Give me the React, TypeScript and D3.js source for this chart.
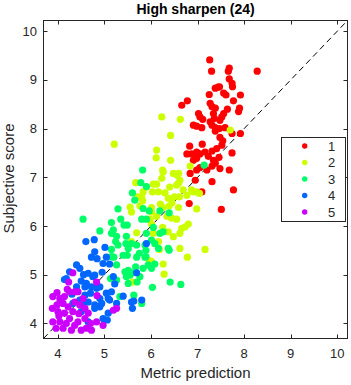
import React from "react";
import { scaleLinear, range } from "d3";

type Pt = [number, number];

const title = "High sharpen (24)";
const xLabel = "Metric prediction";
const yLabel = "Subjective score";
const tickValues = [4, 5, 6, 7, 8, 9, 10];
const legendLabels = ["1", "2", "3", "4", "5"];
const groupColors = ["#ff0000", "#ccff00", "#00ff66", "#0066ff", "#cc00ff"];

const group1: Pt[] = [
  [7.26, 9.41], [7.3, 9.18], [7.68, 9.24], [7.66, 9.18], [8.28, 9.18], [7.68, 9.02],
  [7.74, 8.93], [7.75, 8.86], [7.38, 8.83], [7.44, 8.85], [7.47, 8.86], [7.25, 8.7],
  [7.56, 8.73], [7.61, 8.69], [7.92, 8.69], [7.77, 8.57], [7.9, 8.42], [7.88, 8.35],
  [6.78, 8.57], [6.66, 8.48], [7.27, 8.52], [7.31, 8.45], [7.38, 8.42], [7.64, 8.4],
  [7.34, 8.31], [7.02, 8.31], [7.05, 8.24], [7.11, 8.19], [7.56, 8.31], [7.52, 8.24],
  [7.36, 8.21], [7.48, 8.17], [7.27, 8.14], [6.91, 8.07], [6.98, 8.05], [7.09, 8.02],
  [7.31, 8.07], [7.38, 8.02], [7.47, 8.0], [7.59, 8.02], [7.38, 7.95], [7.74, 7.9],
  [7.48, 7.82], [7.92, 7.9], [7.54, 7.75],
  [6.83, 7.64], [7.1, 7.68], [6.77, 7.48], [6.87, 7.48], [6.98, 7.52], [7.05, 7.48],
  [7.16, 7.52], [7.23, 7.43], [7.31, 7.54], [7.41, 7.59], [7.52, 7.66], [7.46, 7.41],
  [6.91, 7.35], [6.98, 7.39], [7.34, 7.35], [7.38, 7.29], [7.74, 7.5], [6.84, 7.08],
  [6.98, 7.15], [7.05, 7.2], [7.2, 7.15], [7.31, 7.23], [7.48, 7.18], [7.68, 7.15],
  [6.95, 6.94], [7.31, 6.91], [7.09, 6.7], [7.77, 6.74], [6.82, 6.46], [7.51, 6.34],
];

const group2: Pt[] = [
  [6.23, 8.24], [6.63, 8.19], [7.7, 7.97], [6.42, 7.86], [5.21, 7.68], [6.12, 7.56],
  [6.11, 7.4], [6.42, 7.35], [6.25, 7.15], [6.84, 7.23], [6.48, 7.08], [6.59, 7.08],
  [6.62, 6.94], [6.23, 6.98], [5.67, 6.89], [6.05, 6.86], [6.12, 6.86], [6.55, 6.84],
  [5.83, 6.7], [6.03, 6.7], [6.16, 6.7], [6.4, 6.8], [6.69, 6.74], [6.87, 6.74],
  [7.04, 6.67], [6.98, 6.7], [5.8, 6.6], [5.82, 6.52], [6.37, 6.57], [6.61, 6.6],
  [6.77, 6.63], [5.55, 6.39], [5.76, 6.41], [6.01, 6.38], [6.26, 6.38], [6.39, 6.41],
  [6.59, 6.38], [6.98, 6.35], [5.58, 6.29], [6.01, 6.29], [6.12, 6.2], [6.34, 6.2],
  [6.44, 6.16], [6.55, 6.14], [5.98, 6.14], [6.01, 6.04], [6.25, 5.97], [6.66, 5.95],
  [6.73, 5.98], [6.8, 6.04], [5.69, 5.86], [6.05, 5.85], [6.37, 5.88], [6.48, 5.78],
  [6.62, 5.85], [5.58, 5.68], [6.16, 5.68], [6.62, 5.54], [7.16, 5.52], [6.18, 5.52],
  [6.78, 5.36], [6.26, 5.22], [6.28, 5.01], [5.96, 5.29], [5.6, 4.85], [6.01, 5.27],
  [6.26, 7.11], [6.55, 7.05], [6.59, 6.88], [5.9, 6.8], [6.3, 6.68], [6.5, 6.6],
  [5.72, 6.6], [6.2, 6.45], [6.45, 6.48], [6.91, 6.7],
];

const group3: Pt[] = [
  [4.54, 6.14], [5.29, 6.35], [4.9, 5.9], [5.15, 6.07], [5.35, 6.14], [5.49, 6.02],
  [5.15, 5.85], [5.26, 5.79], [5.24, 5.68], [5.46, 5.64], [5.15, 5.52], [5.29, 5.61],
  [5.2, 5.36], [5.49, 5.4], [5.82, 7.15], [5.78, 6.89], [5.9, 6.81], [5.6, 6.68],
  [5.65, 6.53], [5.83, 6.36], [5.96, 6.31], [5.8, 6.14], [5.9, 6.14], [6.19, 6.31],
  [6.39, 6.27], [6.05, 5.97], [5.42, 6.02], [5.19, 5.92], [5.47, 5.79], [5.9, 5.85],
  [6.19, 5.85], [6.26, 5.88], [6.01, 5.71], [5.58, 5.64], [5.69, 5.61], [5.87, 5.61],
  [6.08, 5.64], [5.51, 5.54], [5.75, 5.44], [5.89, 5.37], [6.16, 5.54], [6.37, 5.54],
  [5.67, 5.16], [5.58, 5.04], [5.83, 5.13], [5.94, 5.2], [6.01, 5.13], [6.08, 5.22],
  [5.87, 5.36], [5.69, 5.36], [6.39, 5.5], [5.89, 5.5], [6.41, 4.85], [6.64, 4.8],
  [6.03, 4.74], [5.7, 4.85], [5.63, 4.58], [5.8, 4.41], [5.15, 5.37], [5.26, 5.2],
  [5.44, 5.06], [5.13, 4.92], [5.26, 4.89], [5.4, 5.4], [5.47, 4.96], [5.51, 4.82],
  [5.33, 4.55], [5.51, 5.09], [5.76, 4.96], [5.55, 4.99], [7.14, 7.25],
];

const group4: Pt[] = [
  [4.6, 5.68], [4.78, 5.72], [5.01, 5.56], [4.79, 5.47], [4.72, 5.36], [5.04, 5.36],
  [5.9, 5.64], [4.47, 5.13], [4.25, 5.06], [4.65, 5.03], [4.79, 4.99], [4.5, 4.87],
  [4.14, 4.9], [4.61, 4.82], [4.72, 4.75], [4.9, 4.75], [5.04, 4.62], [5.22, 4.81],
  [5.19, 4.96], [4.97, 5.23], [5.11, 5.22], [4.9, 4.51], [5.11, 4.48], [4.79, 4.38],
  [5.08, 4.21], [5.06, 4.07], [4.65, 4.44], [4.5, 4.24], [4.32, 4.41], [4.58, 4.58],
  [4.65, 4.03], [5.4, 4.56], [5.58, 4.44], [5.8, 4.48], [5.6, 4.31], [5.69, 5.04],
  [4.9, 4.34], [5.26, 4.41], [4.7, 4.62], [4.75, 4.96], [4.18, 4.92], [4.58, 4.75],
  [4.83, 4.72], [4.4, 4.75], [4.47, 4.48], [4.94, 4.41], [5.08, 4.51], [5.15, 4.65],
  [4.79, 4.31], [4.97, 4.1], [4.54, 4.41], [5.63, 4.46], [4.84, 5.33], [4.4, 5.2],
  [4.55, 5.0], [4.95, 5.05], [4.3, 4.6],
];

const group5: Pt[] = [
  [4.32, 5.04], [4.23, 4.85], [4.83, 4.85], [4.84, 4.57], [3.98, 4.63], [3.89, 4.55],
  [4.04, 4.51], [4.14, 4.55], [4.25, 4.65], [4.36, 4.65], [4.43, 4.65], [3.88, 4.31],
  [3.98, 4.38], [4.11, 4.41], [4.22, 4.34], [4.0, 4.24], [4.14, 4.21], [4.32, 4.24],
  [4.47, 4.38], [4.58, 4.31], [4.65, 4.21], [3.89, 4.03], [4.04, 4.03], [4.18, 4.0],
  [4.43, 4.03], [3.96, 3.9], [4.11, 3.9], [4.29, 3.86], [4.5, 3.86], [4.61, 3.9],
  [4.72, 3.86], [4.83, 4.03], [4.97, 3.96], [5.19, 4.27], [5.26, 4.31], [4.54, 4.51],
  [4.36, 4.44], [4.58, 4.1], [4.25, 4.1], [4.36, 3.96], [4.05, 4.45], [4.2, 4.7],
  [4.45, 4.2], [4.02, 4.15], [4.7, 4.0],
];

const groups = [group1, group2, group3, group4, group5];

const W = 351;
const H = 385;
const left = 43.5;
const right = 347.5;
const top = 20.5;
const bottom = 338.5;
const lim: [number, number] = [3.69, 10.22];
const font = "'Liberation Sans', Arial, Helvetica, sans-serif";
const axisColor = "#262626";
const tickLen = 4;

export default function App() {
  const x = scaleLinear().domain(lim).range([left, right]);
  const y = scaleLinear().domain(lim).range([bottom, top]);

  const lg = { x0: 281, y0: 137, w: 64, h: 84 };

  return (
    <svg
      width={W}
      height={H}
      style={{ position: "absolute", left: 0, top: 0, background: "#fff" }}
      fontFamily={font}
    >
      <rect x={0} y={0} width={W} height={H} fill="#fff" />

      {/* identity line */}
      <line
        x1={x(lim[0])}
        y1={y(lim[0])}
        x2={x(lim[1])}
        y2={y(lim[1])}
        stroke="#000"
        strokeWidth={1}
        strokeDasharray="6,4"
      />

      {groups.map((g, gi) => (
        <g key={gi} fill={groupColors[gi]}>
          {g.map((d, i) => (
            <circle key={i} cx={x(d[0])} cy={y(d[1])} r={3.6} />
          ))}
        </g>
      ))}

      {/* frame */}
      <rect
        x={left}
        y={top}
        width={right - left}
        height={bottom - top}
        fill="none"
        stroke={axisColor}
        strokeWidth={1}
      />

      {tickValues.map((t) => {
        const px = Math.round(x(t)) + 0.5;
        const py = Math.round(y(t)) + 0.5;
        return (
          <g key={t} stroke={axisColor} strokeWidth={1}>
            <line x1={px} x2={px} y1={bottom} y2={bottom - tickLen} />
            <line x1={px} x2={px} y1={top} y2={top + tickLen} />
            <line x1={left} x2={left + tickLen} y1={py} y2={py} />
            <line x1={right} x2={right - tickLen} y1={py} y2={py} />
          </g>
        );
      })}

      {tickValues.map((t) => (
        <text
          key={"xt" + t}
          x={x(t)}
          y={358}
          textAnchor="middle"
          fontSize={13}
          fill={axisColor}
        >
          {t}
        </text>
      ))}
      {tickValues.map((t) => (
        <text
          key={"yt" + t}
          x={37}
          y={y(t) + 4.5}
          textAnchor="end"
          fontSize={13}
          fill={axisColor}
        >
          {t}
        </text>
      ))}

      <text
        x={(left + right) / 2}
        y={14}
        textAnchor="middle"
        fontSize={14}
        fontWeight="bold"
        fill="#000"
      >
        {title}
      </text>
      <text
        x={(left + right) / 2}
        y={378}
        textAnchor="middle"
        fontSize={15}
        fill={axisColor}
      >
        {xLabel}
      </text>
      <text
        transform={`translate(14,${(top + bottom) / 2 - 1}) rotate(-90)`}
        textAnchor="middle"
        fontSize={15}
        fill={axisColor}
      >
        {yLabel}
      </text>

      {/* legend */}
      <rect
        x={lg.x0 + 0.5}
        y={lg.y0 + 0.5}
        width={lg.w}
        height={lg.h}
        fill="#fff"
        stroke={axisColor}
        strokeWidth={1}
      />
      {range(legendLabels.length).map((i) => {
        const cy = lg.y0 + 9 + i * 16.5;
        return (
          <g key={"lg" + i}>
            <circle cx={304.7} cy={cy} r={2.7} fill={groupColors[i]} />
            <text x={328} y={cy + 4.5} fontSize={13} fill={axisColor}>
              {legendLabels[i]}
            </text>
          </g>
        );
      })}
    </svg>
  );
}
